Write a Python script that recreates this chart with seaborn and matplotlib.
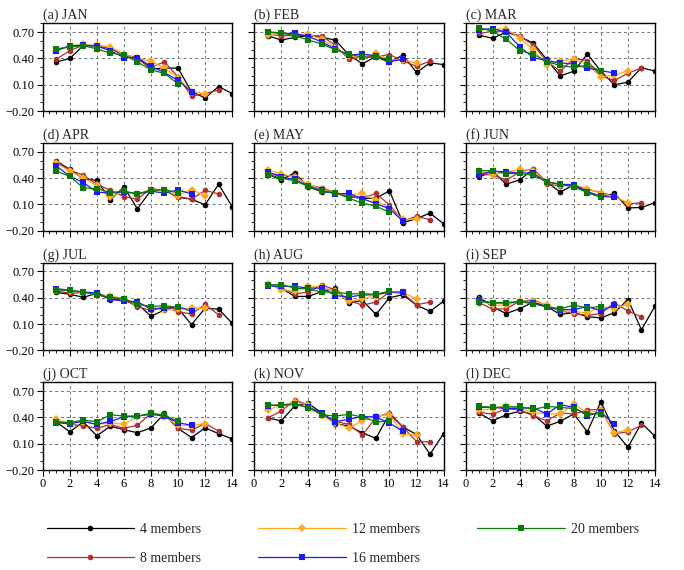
import numpy as np
import pandas as pd
import matplotlib
matplotlib.use("Agg")
import matplotlib.pyplot as plt
from matplotlib.lines import Line2D
from matplotlib.ticker import MultipleLocator, FixedLocator, FuncFormatter
import seaborn as sns

# panel titles
months = ["JAN", "FEB", "MAR", "APR", "MAY", "JUN",
          "JUL", "AUG", "SEP", "OCT", "NOV", "DEC"]
letters = "abcdefghijkl"
members = ["4 members", "8 members", "12 members", "16 members", "20 members"]

# correlation skill vs lead time, one list per month (JAN..DEC)
m4 = [
    [0.36, 0.40, 0.545, 0.545, 0.52, 0.44, 0.41, 0.28, 0.29, 0.29, 0.02, -0.05, 0.08, 0.00],
    [0.66, 0.61, 0.64, 0.66, 0.64, 0.61, 0.44, 0.34, 0.42, 0.355, 0.44, 0.24, 0.35, 0.33],
    [0.665, 0.63, 0.70, 0.65, 0.575, 0.39, 0.20, 0.255, 0.45, 0.255, 0.10, 0.13, 0.295, 0.255],
    [0.594, 0.50, 0.39, 0.375, 0.15, 0.30, 0.05, 0.26, 0.26, 0.18, 0.16, 0.095, 0.33, 0.075],
    [0.445, 0.38, 0.46, 0.30, 0.245, 0.235, 0.19, 0.17, 0.17, 0.255, -0.11, -0.06, 0.00, -0.12],
    [0.41, 0.48, 0.33, 0.38, 0.50, 0.355, 0.24, 0.325, 0.235, 0.185, 0.225, 0.06, 0.065, 0.12],
    [0.46, 0.44, 0.405, 0.45, 0.38, 0.375, 0.33, 0.19, 0.26, 0.28, 0.095, 0.28, 0.27, 0.11],
    [0.56, 0.51, 0.415, 0.415, 0.47, 0.51, 0.34, 0.37, 0.21, 0.40, 0.435, 0.315, 0.245, 0.36],
    [0.41, 0.295, 0.22, 0.275, 0.35, 0.30, 0.21, 0.23, 0.185, 0.17, 0.23, 0.38, 0.035, 0.305],
    [0.35, 0.235, 0.35, 0.19, 0.30, 0.26, 0.225, 0.28, 0.445, 0.275, 0.17, 0.28, 0.215, 0.155],
    [0.395, 0.36, 0.53, 0.56, 0.45, 0.33, 0.30, 0.225, 0.16, 0.44, 0.29, 0.205, -0.02, 0.215],
    [0.45, 0.36, 0.43, 0.47, 0.435, 0.30, 0.355, 0.44, 0.235, 0.58, 0.245, 0.06, 0.335, 0.185],
]
m8 = [
    [0.39, 0.49, 0.55, 0.545, 0.51, 0.44, 0.39, 0.30, 0.36, 0.19, -0.03, 0.00, 0.04],
    [0.675, 0.66, 0.66, 0.665, 0.655, 0.55, 0.39, 0.42, 0.42, 0.445, 0.37, 0.31, 0.37],
    [0.685, 0.71, 0.71, 0.655, 0.555, 0.365, 0.255, 0.40, 0.375, 0.20, 0.15, 0.23, 0.295],
    [0.58, 0.49, 0.435, 0.33, 0.26, 0.19, 0.16, 0.28, 0.26, 0.19, 0.16, 0.26, 0.22],
    [0.46, 0.43, 0.425, 0.32, 0.29, 0.235, 0.19, 0.17, 0.225, 0.095, -0.09, -0.035, -0.075],
    [0.44, 0.44, 0.375, 0.47, 0.505, 0.335, 0.31, 0.325, 0.27, 0.235, 0.195, 0.105, 0.12],
    [0.48, 0.45, 0.46, 0.45, 0.405, 0.375, 0.30, 0.255, 0.30, 0.24, 0.215, 0.325, 0.205],
    [0.56, 0.51, 0.445, 0.465, 0.545, 0.49, 0.37, 0.315, 0.35, 0.465, 0.45, 0.32, 0.35],
    [0.345, 0.27, 0.275, 0.36, 0.375, 0.31, 0.25, 0.22, 0.20, 0.22, 0.34, 0.25, 0.18],
    [0.35, 0.32, 0.305, 0.275, 0.32, 0.275, 0.31, 0.445, 0.425, 0.275, 0.255, 0.33, 0.245],
    [0.395, 0.47, 0.60, 0.54, 0.43, 0.355, 0.32, 0.20, 0.395, 0.455, 0.29, 0.125, 0.12],
    [0.46, 0.435, 0.50, 0.485, 0.42, 0.36, 0.45, 0.44, 0.485, 0.49, 0.215, 0.235, 0.31],
]
m12 = [
    [0.48, 0.545, 0.56, 0.55, 0.53, 0.45, 0.40, 0.37, 0.29, 0.18, 0.02, 0.00],
    [0.665, 0.685, 0.675, 0.675, 0.62, 0.52, 0.43, 0.415, 0.46, 0.385, 0.38, 0.35],
    [0.73, 0.73, 0.74, 0.63, 0.505, 0.32, 0.375, 0.39, 0.33, 0.19, 0.21, 0.26],
    [0.57, 0.48, 0.40, 0.32, 0.18, 0.25, 0.22, 0.27, 0.26, 0.20, 0.27, 0.20],
    [0.49, 0.45, 0.41, 0.33, 0.27, 0.235, 0.21, 0.225, 0.15, 0.05, -0.07, -0.065],
    [0.48, 0.44, 0.47, 0.50, 0.485, 0.355, 0.325, 0.325, 0.28, 0.225, 0.185, 0.12],
    [0.485, 0.48, 0.465, 0.435, 0.42, 0.39, 0.33, 0.30, 0.26, 0.27, 0.28, 0.28],
    [0.56, 0.49, 0.475, 0.535, 0.52, 0.475, 0.36, 0.385, 0.425, 0.465, 0.46, 0.39],
    [0.375, 0.315, 0.315, 0.36, 0.36, 0.32, 0.255, 0.24, 0.23, 0.30, 0.275, 0.33],
    [0.38, 0.33, 0.35, 0.32, 0.34, 0.32, 0.41, 0.45, 0.405, 0.31, 0.305, 0.33],
    [0.48, 0.545, 0.57, 0.545, 0.42, 0.335, 0.28, 0.36, 0.42, 0.43, 0.215, 0.20],
    [0.48, 0.50, 0.535, 0.50, 0.46, 0.44, 0.44, 0.555, 0.45, 0.48, 0.225, 0.26],
]
m16 = [
    [0.49, 0.545, 0.55, 0.54, 0.49, 0.41, 0.41, 0.31, 0.24, 0.15, 0.02],
    [0.70, 0.685, 0.685, 0.65, 0.59, 0.505, 0.44, 0.45, 0.43, 0.365, 0.39],
    [0.73, 0.74, 0.70, 0.535, 0.41, 0.375, 0.35, 0.335, 0.29, 0.26, 0.235],
    [0.54, 0.42, 0.35, 0.24, 0.23, 0.245, 0.22, 0.25, 0.23, 0.265, 0.22],
    [0.47, 0.41, 0.385, 0.31, 0.26, 0.22, 0.225, 0.165, 0.11, 0.05, -0.09],
    [0.44, 0.48, 0.47, 0.46, 0.455, 0.355, 0.33, 0.325, 0.245, 0.195, 0.18],
    [0.505, 0.485, 0.465, 0.455, 0.385, 0.36, 0.355, 0.27, 0.28, 0.30, 0.245],
    [0.535, 0.53, 0.53, 0.51, 0.51, 0.425, 0.41, 0.43, 0.435, 0.465, 0.465],
    [0.375, 0.34, 0.34, 0.355, 0.345, 0.295, 0.265, 0.265, 0.30, 0.25, 0.315],
    [0.34, 0.33, 0.355, 0.32, 0.355, 0.405, 0.415, 0.435, 0.415, 0.34, 0.31],
    [0.535, 0.54, 0.55, 0.515, 0.45, 0.35, 0.38, 0.41, 0.405, 0.335, 0.24],
    [0.515, 0.515, 0.50, 0.505, 0.51, 0.44, 0.545, 0.515, 0.42, 0.46, 0.32],
]
m20 = [
    [0.51, 0.53, 0.545, 0.51, 0.46, 0.44, 0.36, 0.27, 0.23, 0.11],
    [0.705, 0.69, 0.66, 0.61, 0.565, 0.50, 0.45, 0.415, 0.415, 0.39],
    [0.75, 0.71, 0.62, 0.49, 0.45, 0.365, 0.32, 0.30, 0.32, 0.26],
    [0.48, 0.42, 0.29, 0.28, 0.235, 0.25, 0.22, 0.26, 0.27, 0.23],
    [0.44, 0.40, 0.37, 0.305, 0.25, 0.235, 0.17, 0.115, 0.08, 0.01],
    [0.485, 0.485, 0.45, 0.455, 0.43, 0.36, 0.33, 0.30, 0.235, 0.185],
    [0.49, 0.485, 0.465, 0.43, 0.405, 0.39, 0.325, 0.30, 0.31, 0.29],
    [0.545, 0.55, 0.51, 0.50, 0.465, 0.465, 0.445, 0.445, 0.44, 0.475],
    [0.355, 0.345, 0.345, 0.355, 0.33, 0.295, 0.275, 0.315, 0.285, 0.30],
    [0.35, 0.34, 0.37, 0.35, 0.43, 0.415, 0.415, 0.445, 0.425, 0.355],
    [0.54, 0.54, 0.55, 0.51, 0.43, 0.415, 0.435, 0.405, 0.35, 0.355],
    [0.525, 0.515, 0.515, 0.525, 0.49, 0.525, 0.515, 0.50, 0.44, 0.44],
]

colors = {"4 members": "black", "8 members": "#b03030", "12 members": "#ffa820",
          "16 members": "#1a1aff", "20 members": "#0a7a0a"}
marks = {"4 members": "o", "8 members": "o", "12 members": "D",
         "16 members": "s", "20 members": "s"}

sns.set_theme(style="ticks")
plt.rcParams["font.family"] = ["Liberation Serif", "DejaVu Serif"]
plt.rcParams["axes.edgecolor"] = "black"
plt.rcParams["axes.linewidth"] = 1.0
plt.rcParams["xtick.color"] = "black"
plt.rcParams["ytick.color"] = "black"

fig, axes = plt.subplots(4, 3, figsize=(6.84, 5.70), dpi=100, sharex=True, sharey=True)
fig.subplots_adjust(left=0.0624, right=0.9576, top=0.959, bottom=0.1754,
                    wspace=0.116, hspace=0.364)

all_series = [m4, m8, m12, m16, m20]

for i, ax in enumerate(axes.flat):
    parts = []
    for name, series in zip(members, all_series):
        vals = series[i]
        parts.append(pd.DataFrame({"lead": np.arange(1, len(vals) + 1),
                                   "corr": vals, "members": name}))
    df = pd.concat(parts, ignore_index=True)

    sns.lineplot(data=df, x="lead", y="corr", hue="members", style="members",
                 hue_order=members, style_order=members, palette=colors,
                 markers=marks, dashes=False, markersize=4, markeredgewidth=0,
                 linewidth=0.9, errorbar=None, legend=False, ax=ax)

    ax.set_xlim(0, 14)
    ax.set_ylim(-0.2, 0.8)
    ax.xaxis.set_major_locator(MultipleLocator(2))
    ax.xaxis.set_minor_locator(MultipleLocator(0.5))
    ax.yaxis.set_major_locator(FixedLocator([-0.2, 0.1, 0.4, 0.7]))
    ax.yaxis.set_minor_locator(MultipleLocator(0.1))
    ax.yaxis.set_major_formatter(FuncFormatter(lambda v, _: f"{v:.2f}".replace("-", "\u2212")))
    ax.grid(True, which="major", color="0.45", linestyle=(0, (3, 3)), linewidth=0.7)
    ax.tick_params(which="major", direction="out", length=4, width=0.8, labelsize=9, pad=2)
    ax.tick_params(which="minor", direction="out", length=2, width=0.6)
    ax.set_xlabel("")
    ax.set_ylabel("")
    ax.set_title(f"({letters[i]}) {months[i]}", loc="left", fontsize=10, pad=3)

# legend at the bottom, column-wise like the original
handles = [Line2D([], [], color=colors[m], marker=marks[m], markersize=4,
                  markeredgewidth=0, linewidth=0.9) for m in members]
fig.legend(handles, members, loc="upper left", bbox_to_anchor=(0.058, 0.095),
           ncol=3, frameon=False, fontsize=10, handlelength=6.3,
           handletextpad=0.45, labelspacing=1.15, columnspacing=4.1,
           borderpad=0, numpoints=1)

fig.savefig("out.png", dpi=100)
